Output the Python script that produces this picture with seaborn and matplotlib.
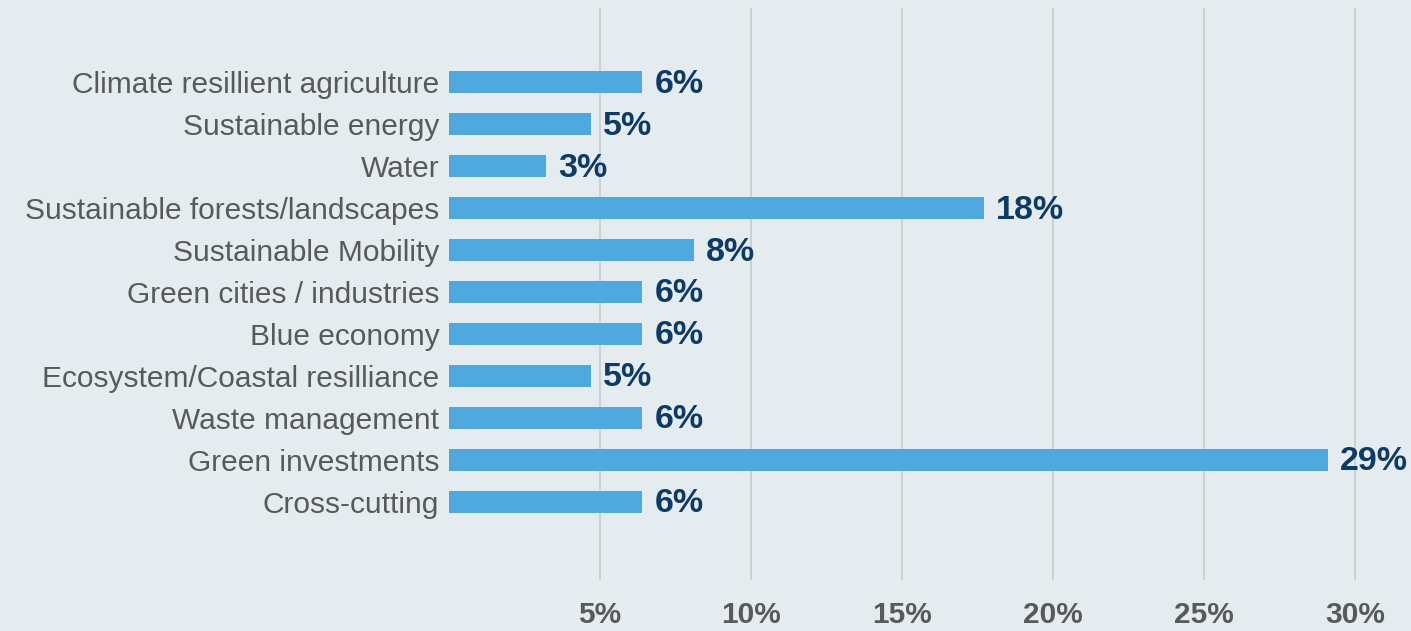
import matplotlib
matplotlib.use("Agg")
import matplotlib.pyplot as plt
from matplotlib.ticker import FixedLocator
import seaborn as sns
import pandas as pd

# Share of climate finance by theme (%)
categories = [
    "Climate resillient agriculture",
    "Sustainable energy",
    "Water",
    "Sustainable forests/landscapes",
    "Sustainable Mobility",
    "Green cities / industries",
    "Blue economy",
    "Ecosystem/Coastal resilliance",
    "Waste management",
    "Green investments",
    "Cross-cutting",
]
shares = [6.4, 4.7, 3.2, 17.7, 8.1, 6.4, 6.4, 4.7, 6.4, 29.1, 6.4]
x_ticks = [5, 10, 15, 20, 25, 30]
x_tick_labels = ["5%", "10%", "15%", "20%", "25%", "30%"]

BG = "#e4ecf0"
BAR = "#4fa9de"
NAVY = "#0e3a66"
GREY = "#58595b"

sns.set_theme(style="white")
plt.rcParams["font.family"] = ["Liberation Sans", "DejaVu Sans"]

df = pd.DataFrame({"category": categories, "share": shares})

fig = plt.figure(figsize=(14.11, 6.31), dpi=100, facecolor=BG)
ax = fig.add_axes([449 / 1411, (631 - 580) / 631, 1 - 449 / 1411, (580 - 8) / 631])
ax.set_facecolor(BG)

sns.barplot(data=df, x="share", y="category", orient="h", color=BAR,
            width=0.53, saturation=1, linewidth=0, ax=ax, zorder=3)

ax.set_xlim(0, 31.85)
ax.set_ylim(11.86, -1.76)
ax.xaxis.set_major_locator(FixedLocator(x_ticks))
ax.set_xticklabels(x_tick_labels)
ax.grid(axis="x", color="#c9cbcd", linewidth=1.2, zorder=0)
ax.grid(axis="y", visible=False)
for s in ax.spines.values():
    s.set_visible(False)

ax.set_xlabel("")
ax.set_ylabel("")
ax.tick_params(axis="x", length=0, pad=15, labelsize=21.5, labelcolor=GREY)
ax.tick_params(axis="y", length=0, pad=7, labelsize=21.5, labelcolor=GREY)
for t in ax.get_xticklabels():
    t.set_fontweight("bold")

for i, v in enumerate(shares):
    ax.text(v + 0.4, i + 0.05, f"{v:.0f}%", va="center", ha="left",
            fontsize=24.5, fontweight="bold", color=NAVY, zorder=4)

fig.savefig("out.png", dpi=100, facecolor=BG)
